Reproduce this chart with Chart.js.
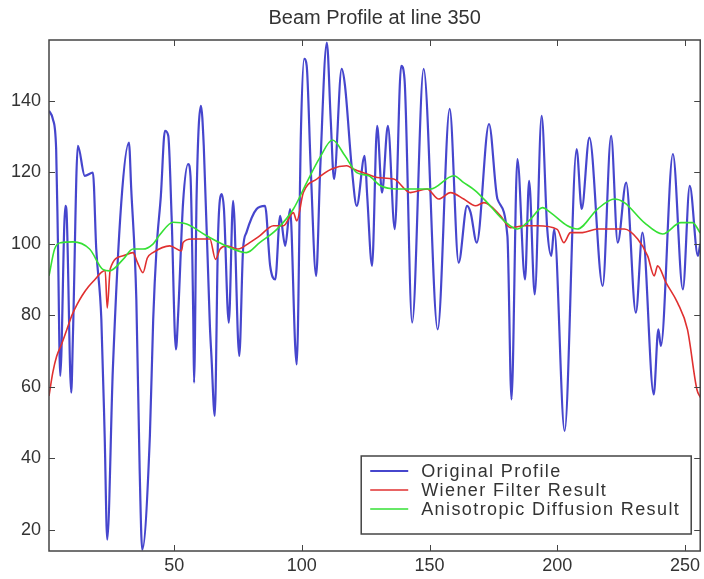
<!DOCTYPE html>
<html lang="en">
  <head>
    <meta charset="UTF-8" />
    <title>Beam Profile at line 350</title>
    <script src="https://cdn.jsdelivr.net/npm/chart.js"></script>
    <style>
      body { margin: 0; background: #fff; }
      #wrap { width: 704px; height: 579px; }
    </style>
  </head>
  <body>
    <div id="wrap"><canvas id="beamChart" width="704" height="579"></canvas></div>

    <script>
      // Original profile: peaks and valleys (pixel, intensity)
      const profileX = [1, 2.5, 3.8, 4.5, 5.4, 7.4, 7.8, 9.7, 10.4, 12.3, 15, 18.2, 19.5, 21.5, 22.8, 23.8,
        26, 29.3, 32.3, 33.2, 35.2, 36.5, 37.5, 40.5, 41.8, 43.1, 44.8, 46.4, 47.7, 49, 50.7, 51.6,
        53.5, 55.5, 56.4, 57.5, 57.8, 58.8, 60.5, 61.6, 64, 64.6, 65.9, 67.2, 68.6, 69.5, 71.4, 73.1,
        75.5, 77, 78.3, 82.3, 85.6, 87.6, 89.6, 91.5, 93.5, 95.4, 97.4, 98, 99.7, 100.9, 101.9, 103.5,
        105.6, 107.2, 109.8, 111.3, 112.6, 115.6, 116.9, 119.6, 121.5, 124.6, 125.6, 127.5, 129.5, 131.4,
        133.7, 136.4, 138.9, 140.2, 143.2, 147.7, 153.2, 157.9, 161.4, 164.7, 166.1, 168.5, 173.3, 176.6,
        180.5, 182.1, 184.4, 187.4, 189, 191.2, 193.9, 196.1, 197.7, 198.8, 202.9, 207.6, 209.6, 212.6,
        217.8, 221.1, 223.7, 227, 230.8, 233.4, 237.8, 239.6, 240.6, 245.3, 249.2, 251.9, 255.1, 256];
      const profileY = [137.2, 134.9, 126.5, 100.3, 63, 110.6, 109.7, 58.3, 75.1, 127.4, 119, 119.9, 98.5, 78.8, 46.2, 17.2,
        64.8, 111.5, 128.3, 115.3, 84.4, 36.8, 14.4, 46.2, 78.8, 98.5, 113.4, 131.6, 130.2, 107.8, 70.4, 80.7,
        111.5, 122.3, 119, 78.8, 61.1, 113.4, 138.6, 127.4, 77, 68.6, 51.8, 102.2, 113.9, 109.7, 77.9, 112,
        68.6, 98.5, 103.1, 109.7, 110.6, 93.8, 90, 107.8, 99.4, 109.7, 71.4, 66.2, 133, 151.7, 149.8, 120.9,
        91, 120.9, 156.3, 134.9, 118.1, 148.9, 144.2, 120.9, 110.6, 124.6, 113.4, 93.8, 133, 114.3,
        133, 104.1, 149.8, 146.1, 77.9, 148.9, 76, 137.7, 94.7, 110.6, 108.7, 100.3, 133.5, 112.5,
        102.2, 56.4, 123.7, 90, 117.6, 85.8, 135.8, 104.1, 96.6, 104.1, 47.6, 126.5, 109.7, 129.7,
        88.2, 130.2, 100.3, 117.1, 80.7, 103.1, 57.8, 76, 71.4, 125.1, 87.2, 116.2, 96.6, 100];

      // Wiener filter result
      const wienerX = [1, 2.5, 4, 6, 8, 10, 12, 14, 16.5, 19, 21.5, 23, 23.8, 25, 30, 33.9, 35.5, 37.8, 39.5,
        41.7, 48.3, 52.9, 53.5, 56.8, 64, 66.2, 68, 70.5, 75, 79.6, 83.5, 88.9, 92.8, 96.7, 98, 100.6,
        105.9, 111.7, 117.6, 120.2, 125.5, 129.5, 136, 142.5, 149, 153.6, 158.2, 163.4, 168, 171.3,
        177.8, 181.7, 187, 192.2, 200, 202.6, 205.2, 209.9, 215.8, 226.3, 231.5, 235.4, 238, 239.3,
        242.6, 247.1, 251, 254.7, 256];
      const wienerY = [57.4, 64, 68.5, 72, 76, 80, 83, 85.5, 88, 90, 92, 92.5, 82, 93, 96.6, 97.5, 95, 91.9, 96,
        97.5, 99.4, 98, 100.3, 101.3, 101.3, 95.6, 98.5, 99.4, 98.5, 100.3, 102.2, 105, 105, 108.7, 106.4, 114.3,
        118.1, 120.9, 121.8, 120.9, 119.5, 118.5, 118.1, 114.3, 115.3, 112.5, 114.3, 112.5, 110.6, 111.5,
        107.8, 104.5, 105, 105, 104, 100.3, 103.1, 103.1, 104.1, 104.1, 101.3, 96.6, 91, 93.8,
        89.1, 83.5, 76, 59.2, 57];

      // Anisotropic diffusion result
      const diffusionX = [1, 3.2, 5.8, 10.4, 16.9, 22.1, 24.7, 30, 33.9, 37.8, 41.7, 44.4, 49.6, 54.9, 62.7,
        73.1, 78.3, 83.5, 90.2, 96.7, 101.9, 107, 112, 116.9, 121.5, 126.2, 130.8, 137.3, 150.4, 159.5,
        163.4, 168, 172.6, 179.2, 184.4, 189.6, 194.2, 197.4, 204, 207.9, 215.8, 222.4, 226.3, 234.1,
        241.3, 248.4, 253, 256];
      const diffusionY = [91, 98.5, 100.3, 100.5, 98.5, 92.8, 92.4, 95.6, 98.5, 98.5, 99.9, 102.5, 106, 105.5, 102.2,
        98.5, 97.5, 100.3, 104, 109.7, 117.1, 124, 129, 124.6, 119.9, 119, 116.2, 115.3, 115.3, 119,
        117.1, 114.8, 111.5, 106.4, 104.1, 106.9, 110.1, 108.7, 105, 104.1, 109.7, 112.5, 111.5, 105.9,
        102.7, 105.9, 105.9, 103];

      const seriesNames = ["Original Profile", "Wiener Filter Result", "Anisotropic Diffusion Result"];
      const xTicks = [50, 100, 150, 200, 250];
      const yTicks = [20, 40, 60, 80, 100, 120, 140];

      const FONT = "'Liberation Sans', Arial, sans-serif";
      const TEXT = "#333";

      function toPoints(xs, ys) {
        return xs.map((x, i) => ({ x: x, y: ys[i] }));
      }

      // legend box inside the plot, bottom right (matlab style)
      const boxLegend = {
        id: "boxLegend",
        afterDatasetsDraw(chart) {
          const { ctx, chartArea } = chart;
          const w = 330, h = 78;
          const left = chartArea.right - 9 - w;
          const top = chartArea.bottom - 17 - h;
          ctx.save();
          ctx.fillStyle = "#fff";
          ctx.fillRect(left, top, w, h);
          ctx.strokeStyle = "#444";
          ctx.lineWidth = 1.5;
          ctx.strokeRect(left, top, w, h);
          ctx.font = "18px " + FONT;
          ctx.letterSpacing = "1.4px";
          ctx.textBaseline = "middle";
          chart.data.datasets.forEach((ds, i) => {
            const y = top + 15 + i * 19;
            ctx.strokeStyle = ds.borderColor;
            ctx.lineWidth = ds.borderWidth;
            ctx.beginPath();
            ctx.moveTo(left + 9, y);
            ctx.lineTo(left + 47, y);
            ctx.stroke();
            ctx.fillStyle = TEXT;
            ctx.fillText(ds.label, left + 60, y + 1);
          });
          ctx.restore();
        },
      };

      // box around the axes with inward ticks on all four sides
      const axisBox = {
        id: "axisBox",
        afterDraw(chart) {
          const { ctx, chartArea: a, scales } = chart;
          ctx.save();
          ctx.strokeStyle = "#444";
          ctx.lineWidth = 1.5;
          ctx.strokeRect(a.left, a.top, a.right - a.left, a.bottom - a.top);
          ctx.beginPath();
          xTicks.forEach((v) => {
            const px = Math.round(scales.x.getPixelForValue(v)) + 0.5;
            ctx.moveTo(px, a.bottom); ctx.lineTo(px, a.bottom - 6);
            ctx.moveTo(px, a.top); ctx.lineTo(px, a.top + 6);
          });
          yTicks.forEach((v) => {
            const py = Math.round(scales.y.getPixelForValue(v)) + 0.5;
            ctx.moveTo(a.left, py); ctx.lineTo(a.left + 6, py);
            ctx.moveTo(a.right, py); ctx.lineTo(a.right - 6, py);
          });
          ctx.lineWidth = 1;
          ctx.stroke();
          ctx.restore();
        },
      };

      const ctx = document.getElementById("beamChart").getContext("2d");
      new Chart(ctx, {
        type: "line",
        data: {
          datasets: [
            {
              label: seriesNames[0],
              data: toPoints(profileX, profileY),
              borderColor: "rgba(50, 50, 200, 0.9)",
              borderWidth: 2.2,
              pointRadius: 0,
              cubicInterpolationMode: "monotone",
              order: 3,
            },
            {
              label: seriesNames[1],
              data: toPoints(wienerX, wienerY),
              borderColor: "#e03030",
              borderWidth: 1.6,
              pointRadius: 0,
              cubicInterpolationMode: "monotone",
              order: 2,
            },
            {
              label: seriesNames[2],
              data: toPoints(diffusionX, diffusionY),
              borderColor: "#35e035",
              borderWidth: 1.6,
              pointRadius: 0,
              cubicInterpolationMode: "monotone",
              order: 1,
            },
          ],
        },
        options: {
          responsive: false,
          animation: false,
          layout: { padding: { left: 0, right: 1, top: 0, bottom: 0 } },
          plugins: {
            legend: { display: false },
            tooltip: { enabled: false },
            title: {
              display: true,
              text: "Beam Profile at line 350",
              fullSize: false,
              color: TEXT,
              font: { family: FONT, size: 20, weight: "normal" },
              padding: { top: 6, bottom: 10 },
            },
          },
          scales: {
            x: {
              type: "linear",
              min: 1,
              max: 256,
              afterBuildTicks: (s) => { s.ticks = xTicks.map((v) => ({ value: v })); },
              afterFit: (s) => { s.height = 28; },
              grid: { display: false, drawTicks: false },
              border: { display: false },
              ticks: { color: TEXT, font: { family: FONT, size: 18 }, padding: 4, maxRotation: 0 },
            },
            y: {
              type: "linear",
              min: 14,
              max: 157,
              afterBuildTicks: (s) => { s.ticks = yTicks.map((v) => ({ value: v })); },
              afterFit: (s) => { s.width = 49; },
              grid: { display: false, drawTicks: false },
              border: { display: false },
              ticks: { color: TEXT, font: { family: FONT, size: 18 }, padding: 8 },
            },
          },
        },
        plugins: [boxLegend, axisBox],
      });
    </script>
  </body>
</html>
